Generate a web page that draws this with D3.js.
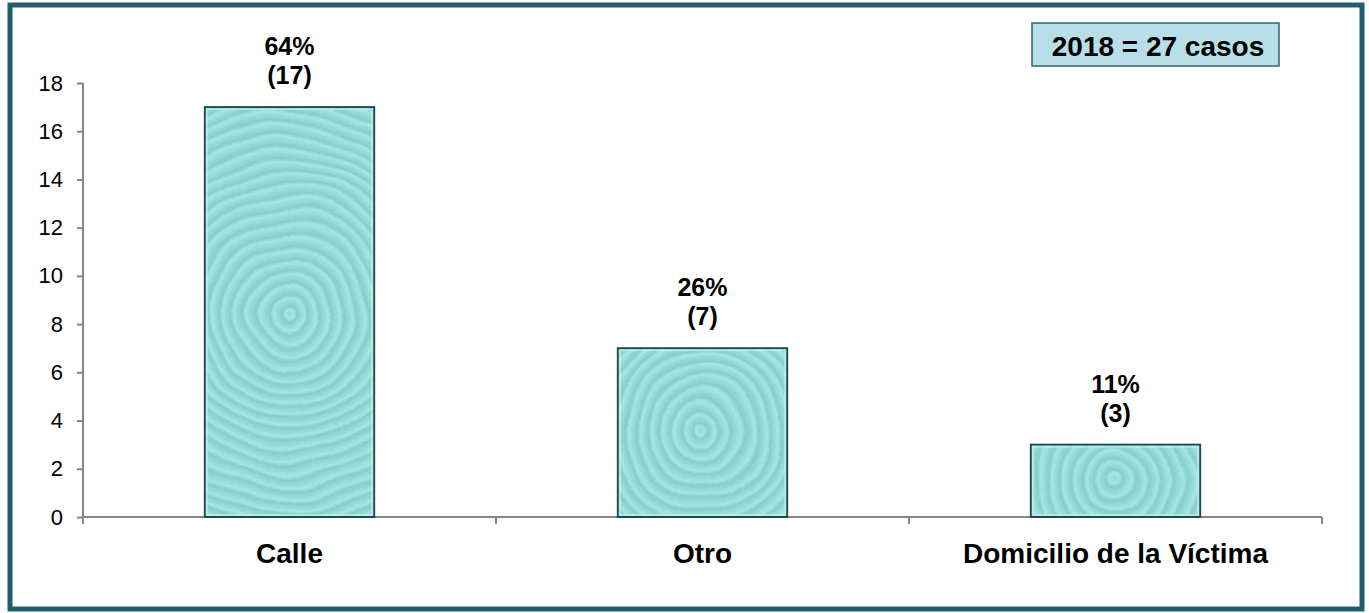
<!DOCTYPE html>
<html>
<head>
<meta charset="utf-8">
<script src="https://cdn.jsdelivr.net/npm/d3@7"></script>
<style>
  body { margin: 0; background: #fff; }
  svg { display: block; font-family: Arial, "Liberation Sans", sans-serif; }
</style>
</head>
<body>
<div id="chart"></div>
<script>
const categories = ['Calle', 'Otro', 'Domicilio de la Víctima'];
const counts = [17, 7, 3];
const percents = ['64%', '26%', '11%'];
const yTicks = [0, 2, 4, 6, 8, 10, 12, 14, 16, 18];
const totalLabel = '2018 = 27 casos';

const width = 1369, height = 613;
const margin = { top: 83, right: 47, bottom: 96, left: 83 };

const svg = d3.select('#chart')
    .append('svg')
    .attr('width', width)
    .attr('height', height);

// outer frame
svg.append('rect')
    .attr('x', 10).attr('y', 5)
    .attr('width', width - 17).attr('height', height - 9)
    .attr('fill', '#fff')
    .attr('stroke', '#215d6b')
    .attr('stroke-width', 5);

const defs = svg.append('defs');

// slight warp so the rings look like ripples
const warp = defs.append('filter').attr('id', 'warp')
    .attr('x', 0).attr('y', 0).attr('width', 1).attr('height', 1);
warp.append('feTurbulence')
    .attr('type', 'fractalNoise').attr('baseFrequency', 0.012)
    .attr('numOctaves', 2).attr('seed', 3).attr('result', 'noise');
warp.append('feDisplacementMap')
    .attr('in', 'SourceGraphic').attr('in2', 'noise')
    .attr('scale', 18).attr('xChannelSelector', 'R').attr('yChannelSelector', 'G');

const x = d3.scaleBand()
    .domain(categories)
    .range([margin.left, width - margin.right])
    .paddingInner(0.59)
    .paddingOuter(0.295);

const y = d3.scaleLinear()
    .domain([0, 18])
    .range([height - margin.bottom, margin.top]);

// ripple texture per bar
categories.forEach((c, i) => {
    const cx = x(c) + x.bandwidth() / 2;
    const cy = (y(counts[i]) + y(0)) / 2;
    const g = defs.append('radialGradient')
        .attr('id', 'rip' + i)
        .attr('gradientUnits', 'userSpaceOnUse')
        .attr('cx', cx).attr('cy', cy)
        .attr('r', 12)
        .attr('spreadMethod', 'repeat');
    g.append('stop').attr('offset', '0%').attr('stop-color', '#93d9d7');
    g.append('stop').attr('offset', '40%').attr('stop-color', '#a6e6e4');
    g.append('stop').attr('offset', '70%').attr('stop-color', '#86cecc');
    g.append('stop').attr('offset', '100%').attr('stop-color', '#93d9d7');
});

// y axis
const yAxis = svg.append('g')
    .attr('transform', `translate(${margin.left},0)`)
    .call(d3.axisLeft(y).tickValues(yTicks).tickSize(6).tickPadding(14).tickFormat(d3.format('d')));
yAxis.selectAll('line, path').attr('stroke', '#868686').attr('stroke-width', 2);
yAxis.selectAll('text').attr('font-size', 22).attr('fill', '#000')
    .attr('font-family', 'Arial, "Liberation Sans", sans-serif');
yAxis.select('.domain').attr('d', `M0,${y(18)}V${y(0) + 7}`);

// x axis line and separators
const xr = x.range();
const xAxis = svg.append('g');
xAxis.append('line')
    .attr('x1', xr[0]).attr('x2', xr[1])
    .attr('y1', y(0)).attr('y2', y(0))
    .attr('stroke', '#868686').attr('stroke-width', 2);
d3.range(categories.length + 1).forEach(k => {
    const px = xr[0] + k * (xr[1] - xr[0]) / categories.length;
    xAxis.append('line')
        .attr('x1', px).attr('x2', px)
        .attr('y1', y(0)).attr('y2', y(0) + 7)
        .attr('stroke', '#868686').attr('stroke-width', 2);
});

// bars
const bars = svg.append('g').selectAll('g.bar')
    .data(categories)
    .enter()
    .append('g');

bars.each(function (d, i) {
    const clip = defs.append('clipPath').attr('id', 'clip' + i);
    clip.append('rect')
        .attr('x', x(d)).attr('y', y(counts[i]))
        .attr('width', x.bandwidth()).attr('height', y(0) - y(counts[i]));
});

bars.append('g')
    .attr('clip-path', (d, i) => `url(#clip${i})`)
    .append('rect')
    .attr('x', d => x(d) - 20)
    .attr('y', (d, i) => y(counts[i]) - 20)
    .attr('width', x.bandwidth() + 40)
    .attr('height', (d, i) => y(0) - y(counts[i]) + 40)
    .attr('fill', (d, i) => `url(#rip${i})`)
    .attr('filter', 'url(#warp)');

bars.append('rect')
    .attr('x', d => x(d))
    .attr('y', (d, i) => y(counts[i]))
    .attr('width', x.bandwidth())
    .attr('height', (d, i) => y(0) - y(counts[i]))
    .attr('fill', 'none')
    .attr('stroke', '#1f4b50')
    .attr('stroke-width', 2);

// bevel highlight
bars.append('rect')
    .attr('x', d => x(d) + 2)
    .attr('y', (d, i) => y(counts[i]) + 2)
    .attr('width', x.bandwidth() - 4)
    .attr('height', (d, i) => y(0) - y(counts[i]) - 4)
    .attr('fill', 'none')
    .attr('stroke', '#c4efee')
    .attr('stroke-opacity', 0.7)
    .attr('stroke-width', 2);

// value labels
bars.append('text')
    .attr('x', d => x(d) + x.bandwidth() / 2)
    .attr('y', (d, i) => y(counts[i]) - 52)
    .attr('text-anchor', 'middle')
    .attr('font-size', 25)
    .attr('font-weight', 'bold')
    .text((d, i) => percents[i]);

bars.append('text')
    .attr('x', d => x(d) + x.bandwidth() / 2)
    .attr('y', (d, i) => y(counts[i]) - 23)
    .attr('text-anchor', 'middle')
    .attr('font-size', 25)
    .attr('font-weight', 'bold')
    .text((d, i) => `(${counts[i]})`);

// category labels
svg.append('g').selectAll('text')
    .data(categories)
    .enter()
    .append('text')
    .attr('x', d => x(d) + x.bandwidth() / 2)
    .attr('y', y(0) + 46)
    .attr('text-anchor', 'middle')
    .attr('font-size', 28)
    .attr('font-weight', 'bold')
    .text(d => d);

// total box
svg.append('rect')
    .attr('x', 1032).attr('y', 23)
    .attr('width', 247).attr('height', 43)
    .attr('fill', '#b8dfe8')
    .attr('stroke', '#2d6672')
    .attr('stroke-width', 1.5);
svg.append('text')
    .attr('x', 1158).attr('y', 56)
    .attr('text-anchor', 'middle')
    .attr('font-size', 28)
    .attr('font-weight', 'bold')
    .text(totalLabel);
</script>
</body>
</html>
